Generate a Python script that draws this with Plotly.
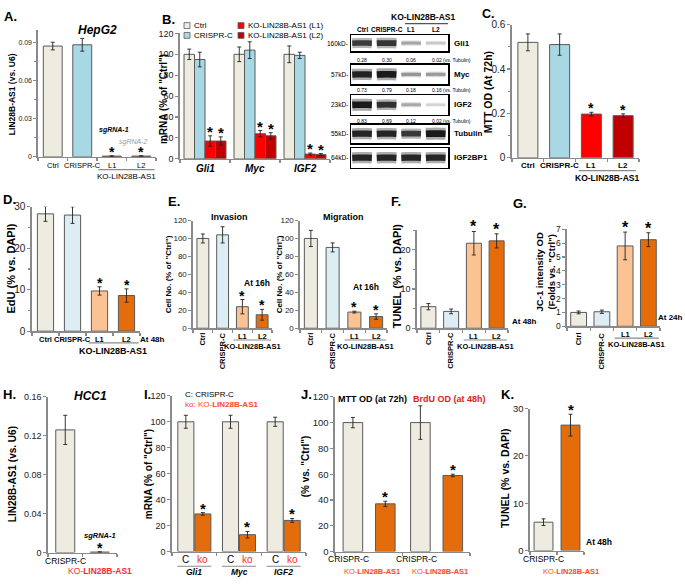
import plotly.graph_objects as go

W, H = 685, 584
FONT = "Arial, Liberation Sans, sans-serif"
AX = "#8a8a8a"
EDGE = "#5a5a5a"

C_CTRL = "#EEEBE0"
C_CRISPR = "#A8D8E3"
C_CRISPR_L = "#DCEEF4"
C_L1 = "#FF0000"
C_L2 = "#C00000"
C_PEACH = "#FBC293"
C_ORANGE = "#E46C0A"
C_KOTXT = "#FF4A1C"

# ---------------- data ----------------
cat4 = ["Ctrl", "CRISPR-C", "L1", "L2"]

A_vals = [0.087, 0.088, 0.0006, 0.0006]
A_errs = [0.003, 0.005, 0.0002, 0.0002]

B_genes = ["Gli1", "Myc", "IGF2"]
B_ctrl = [100, 100, 100]
B_ctrl_err = [5, 7, 8]
B_crispr = [95, 104, 99]
B_crispr_err = [7, 8, 3]
B_l1 = [17, 24, 4.5]
B_l1_err = [5, 3, 1]
B_l2 = [17, 22, 4]
B_l2_err = [4, 3, 1]

blot_rows = ["Gli1", "Myc", "IGF2", "Tubulin", "IGF2BP1"]
blot_mw = ["160kD-", "57kD-", "23kD-", "55kD-", "64kD-"]
blot_gli1 = [0.28, 0.30, 0.06, 0.02]
blot_myc = [0.73, 0.79, 0.18, 0.16]
blot_igf2 = [0.83, 0.69, 0.12, 0.02]
blot_tubulin = [1.0, 1.0, 0.85, 1.1]
blot_igf2bp1 = [1.0, 1.0, 1.0, 1.0]

C_vals = [0.52, 0.51, 0.197, 0.19]
C_errs = [0.038, 0.048, 0.008, 0.008]

D_vals = [28.3, 28.0, 9.7, 8.6]
D_errs = [1.8, 2.0, 1.0, 1.6]

E_inv = [100, 104, 24, 15]
E_inv_err = [5, 9, 8, 6]
E_mig = [100, 90, 18, 13]
E_mig_err = [9, 5, 1, 3]

F_vals = [5.5, 4.3, 21.7, 22.3]
F_errs = [0.8, 0.6, 3.0, 1.8]

G_vals = [1.0, 1.05, 5.8, 6.25]
G_errs = [0.1, 0.12, 1.0, 0.5]

H_cats = ["CRISPR-C", "KO-LIN28B-AS1"]
H_vals = [0.126, 0.0005]
H_errs = [0.015, 0.0002]

I_genes = ["Gli1", "Myc", "IGF2"]
I_c = [100, 100, 100]
I_c_err = [5, 5, 3.5]
I_ko = [29, 13, 24]
I_ko_err = [1, 2.5, 1.5]

J_groups = ["MTT OD (at 72h)", "BrdU OD (at 48h)"]
J_c = [100, 100]
J_c_err = [4, 13]
J_ko = [37, 59]
J_ko_err = [2, 1]

K_vals = [6.0, 26.5]
K_errs = [0.7, 2.3]

# ---------------- helpers ----------------
traces = []
layout = {}
anns = []
shapes = []


def axname(n, kind):
    return f"{kind}axis" if n == 1 else f"{kind}axis{n}"


def ref(n, kind):
    return kind if n == 1 else f"{kind}{n}"


def add_panel(n, x0, x1, ytop, ybot, yrange, tickvals, ticktext, ncat,
              tickfont=8.5, minor=None):
    xa = dict(domain=[x0 / W, x1 / W], anchor=ref(n, "y"),
              range=[-0.5, ncat - 0.5], showline=True, linecolor=AX, linewidth=1.6,
              ticks="outside", ticklen=3, tickcolor=AX, tickwidth=1.2,
              tickvals=[i - 0.5 for i in range(ncat + 1)], showticklabels=False,
              showgrid=False, zeroline=False, fixedrange=True)
    ya = dict(domain=[1 - ybot / H, 1 - ytop / H], anchor=ref(n, "x"),
              range=yrange, showline=True, linecolor=AX, linewidth=1.6,
              ticks="outside", ticklen=3, tickcolor=AX, tickwidth=1.2,
              tickvals=tickvals, ticktext=ticktext,
              tickfont=dict(size=tickfont, color="#222", family=FONT),
              showgrid=False, zeroline=False, fixedrange=True)
    if minor is not None:
        ya["minor"] = dict(tickvals=minor, ticks="outside", ticklen=2, tickcolor=AX)
    layout[axname(n, "x")] = xa
    layout[axname(n, "y")] = ya


def bars(n, xs, vals, errs, colors, width, offset=None):
    t = go.Bar(x=xs, y=vals, width=width, marker=dict(color=colors, line=dict(color=EDGE, width=1)),
               error_y=dict(type="data", array=errs, color="#222", thickness=0.9, width=2),
               xaxis=ref(n, "x"), yaxis=ref(n, "y"), showlegend=False, hoverinfo="skip")
    if offset is not None:
        t.offset = offset
    traces.append(t)


def A(text, px, py, size=8, bold=False, italic=False, color="black",
      xanchor="center", yanchor="middle", angle=0):
    if bold:
        text = f"<b>{text}</b>"
    if italic:
        text = f"<i>{text}</i>"
    anns.append(dict(text=text, x=px / W, y=1 - py / H, xref="paper", yref="paper",
                     showarrow=False, xanchor=xanchor, yanchor=yanchor, textangle=angle,
                     font=dict(size=size, color=color, family=FONT)))


def AD(text, n, xd, py, size=8, bold=False, italic=False, color="black",
       xanchor="center", yanchor="middle", angle=0):
    if bold:
        text = f"<b>{text}</b>"
    if italic:
        text = f"<i>{text}</i>"
    anns.append(dict(text=text, x=xd, y=1 - py / H, xref=ref(n, "x"), yref="paper",
                     showarrow=False, xanchor=xanchor, yanchor=yanchor, textangle=angle,
                     font=dict(size=size, color=color, family=FONT)))


def star(n, xd, yd, size=14):
    anns.append(dict(text="<b>*</b>", x=xd, y=yd, xref=ref(n, "x"), yref=ref(n, "y"),
                     showarrow=False, xanchor="center", yanchor="bottom", yshift=-6,
                     font=dict(size=size, color="black", family=FONT)))


def uline(n, xa, xb, py, color="#8a8a8a"):
    shapes.append(dict(type="line", xref=ref(n, "x"), yref="paper", x0=xa, x1=xb,
                       y0=1 - py / H, y1=1 - py / H, line=dict(color=color, width=1.2)))


def label(t, px, py, size=13):
    A(t, px, py, size=size, bold=True, xanchor="left")


# ---------------- Panel A ----------------
add_panel(1, 38, 156, 24, 154, [0, 0.1], [0, 0.03, 0.06, 0.09], ["0", "0.03", "0.06", "0.09"], 4,
          tickfont=7, minor=[0.015, 0.045, 0.075])
bars(1, list(range(4)), A_vals, A_errs, [C_CTRL, C_CRISPR, C_L1, C_L2], 0.64)
for i, c in enumerate(cat4):
    AD(c, 1, i, 163, size=7.5)
uline(1, 1.55, 3.45, 167)
AD("KO-LIN28B-AS1", 1, 2.5, 174, size=8)
AD("sgRNA-1", 1, 2.08, 127, size=7, bold=True, italic=True)
AD("sgRNA-2", 1, 2.75, 139, size=7, italic=True, color="#9a9a9a")
for i in (2, 3):
    star(1, i, A_vals[i] + A_errs[i])
A("HepG2", 97, 25, size=12, bold=True, italic=True)
A("LIN28B-AS1 (vs. U6)", 12, 90, size=8.5, bold=True, angle=-90)
label("A.", 2, 11)

# ---------------- Panel B ----------------
add_panel(2, 180, 330, 28, 156, [0, 120], list(range(0, 121, 20)), [str(v) for v in range(0, 121, 20)], 3,
          tickfont=9)
bw = 0.21
for k, (vals, errs, col) in enumerate([(B_ctrl, B_ctrl_err, C_CTRL), (B_crispr, B_crispr_err, C_CRISPR),
                                       (B_l1, B_l1_err, C_L1), (B_l2, B_l2_err, C_L2)]):
    off = -2 * bw + k * bw
    bars(2, list(range(3)), vals, errs, col, bw, offset=off)
    if k >= 2:
        for i in range(3):
            star(2, i + off + bw / 2, vals[i] + errs[i], size=15)
for i, g in enumerate(B_genes):
    AD(g, 2, i, 166, size=10, bold=True, italic=True)
A("mRNA (% of \"Ctrl\")", 163, 95, size=10, bold=True, angle=-90)
label("B.", 160, 14)
# legend
for (txt, col, px, py) in [("Ctrl", C_CTRL, 187, 20), ("CRISPR-C", C_CRISPR, 187, 30),
                           ("KO-LIN28B-AS1 (L1)", C_L1, 241, 20), ("KO-LIN28B-AS1 (L2)", C_L2, 241, 30)]:
    shapes.append(dict(type="rect", xref="paper", yref="paper", x0=(px - 3) / W, x1=(px + 3) / W,
                       y0=1 - (py + 3) / H, y1=1 - (py - 3) / H, fillcolor=col, line=dict(color=EDGE, width=0.8)))
    A(txt, px + 5, py, size=8, xanchor="left")

# ---------------- Western blot (panel B right) ----------------
blot_boxes = [(30, 46), (60, 80), (91, 111), (121, 140), (145, 165)]
blot_quant_y = [55, 86, 117]
blot_data = [blot_gli1, blot_myc, blot_igf2, blot_tubulin, blot_igf2bp1]
blot_strength = [0.8, 1.0, 1.0, 1.0, 0.9]
bx0, bx1 = 351, 448
for r, (name, mw, (yt, yb), dat, s) in enumerate(zip(blot_rows, blot_mw, blot_boxes, blot_data, blot_strength)):
    n = 13 + r
    layout[axname(n, "x")] = dict(domain=[bx0 / W, bx1 / W], anchor=ref(n, "y"), range=[-0.45, 3.5],
                                  showline=True, mirror=True, linecolor="black", linewidth=1.5,
                                  showticklabels=False, ticks="", showgrid=False, zeroline=False)
    layout[axname(n, "y")] = dict(domain=[1 - yb / H, 1 - yt / H], anchor=ref(n, "x"), range=[-1, 1],
                                  showline=True, mirror=True, linecolor="black", linewidth=1.5,
                                  showticklabels=False, ticks="", showgrid=False, zeroline=False)
    mx = max(dat)
    for lane, v in enumerate(dat):
        rel = min(1.0, v / mx) * s
        for wfac, op in ((1.0, 0.35), (0.55, 0.9)):
            g = int(235 - 225 * rel ** 0.6)
            traces.append(go.Scatter(x=[lane - 0.4, lane - 0.2, lane + 0.2, lane + 0.4], y=[0, 0.02, 0.02, 0],
                                     mode="lines", line=dict(color=f"rgb({g},{g},{g})",
                                                             width=max(1.0, (4 + 8 * rel) * wfac), shape="spline"),
                                     opacity=op, xaxis=ref(n, "x"), yaxis=ref(n, "y"),
                                     showlegend=False, hoverinfo="skip"))
    ym = (yt + yb) / 2
    A(mw, bx0 - 1, ym, size=6.5, xanchor="right")
    A(name, bx1 + 4, ym, size=8, bold=True, xanchor="left")
    if r < 3:
        qy = blot_quant_y[r]
        for lane, v in enumerate(dat):
            if lane < 3:
                AD(f"{v:.2f}", 13, lane, qy, size=5)
            else:
                AD(f"{v:.2f} (vs. Tubulin)", 13, lane - 0.25, qy, size=5, xanchor="left")
for lane, c in enumerate(cat4):
    AD(c, 13, lane, 24, size=6.5, bold=True)
AD("KO-LIN28B-AS1", 13, 2.5, 11, size=8.5, bold=True)
uline(13, 1.75, 3.5, 18, color="#555")

# ---------------- Panel C ----------------
add_panel(3, 512, 639, 19, 155, [0, 0.6], [0, 0.2, 0.4, 0.6], ["0", "0.2", "0.4", "0.6"], 4,
          tickfont=10, minor=[0.1, 0.3, 0.5])
bars(3, list(range(4)), C_vals, C_errs, [C_CTRL, C_CRISPR, C_L1, C_L2], 0.63)
for i, c in enumerate(cat4):
    AD(c, 3, i, 163, size=8, bold=True)
for i in (2, 3):
    star(3, i, C_vals[i] + C_errs[i])
uline(3, 1.6, 3.4, 168)
AD("KO-LIN28B-AS1", 3, 2.5, 176, size=8.5, bold=True)
A("MTT OD (At 72h)", 488, 88, size=10.5, bold=True, angle=-90)
label("C.", 480, 8, size=12.5)

# ---------------- Panel D ----------------
add_panel(4, 32, 140, 205, 332, [0, 30], [0, 10, 20, 30], ["0", "10", "20", "30"], 4,
          tickfont=10, minor=[5, 15, 25])
bars(4, list(range(4)), D_vals, D_errs, [C_CTRL, C_CRISPR_L, C_PEACH, C_ORANGE], 0.6)
for i, c in enumerate(cat4):
    AD(c, 4, i, 340, size=7.5, bold=True)
for i in (2, 3):
    star(4, i, D_vals[i] + D_errs[i])
uline(4, 1.6, 3.45, 344)
AD("KO-LIN28B-AS1", 4, 2.5, 352, size=9, bold=True)
A("At 48h", 138, 341, size=8, bold=True, xanchor="left")
A("EdU (% vs. DAPI)", 11, 268, size=11, bold=True, angle=-90)
label("D.", 1, 198)


# ---------------- Panel E / F / G (rotated labels) ----------------
def rot_labels(n, ylab, ko_y, ko_size=7.5):
    AD("Ctrl", n, 0, 331, size=7.5, bold=True, angle=-90, yanchor="top")
    AD("CRISPR-C", n, 1, 331, size=7.5, bold=True, angle=-90, yanchor="top")
    AD("L1", n, 2, ylab, size=7.5, bold=True)
    AD("L2", n, 3, ylab, size=7.5, bold=True)
    uline(n, 1.55, 3.45, ylab + 4)
    AD("KO-LIN28B-AS1", n, 2.5, ko_y, size=ko_size, bold=True)


ticks120 = list(range(0, 121, 20))
add_panel(5, 193, 272, 219, 329, [0, 120], ticks120, [str(v) for v in ticks120], 4, tickfont=8)
bars(5, list(range(4)), E_inv, E_inv_err, [C_CTRL, C_CRISPR_L, C_PEACH, C_ORANGE], 0.6)
for i in (2, 3):
    star(5, i, E_inv[i] + E_inv_err[i])
rot_labels(5, 337, 348)
A("Invasion", 230, 215, size=9, bold=True)
A("At 16h", 257, 283, size=8.5, bold=True)
A("Cell No. (% of \"Ctrl\")", 168, 274, size=8, bold=True, angle=-90)
label("E.", 166, 200)

add_panel(6, 300, 387, 219, 329, [0, 120], ticks120, [str(v) for v in ticks120], 4, tickfont=8)
bars(6, list(range(4)), E_mig, E_mig_err, [C_CTRL, C_CRISPR_L, C_PEACH, C_ORANGE], 0.6)
for i in (2, 3):
    star(6, i, E_mig[i] + E_mig_err[i])
rot_labels(6, 337, 348)
A("Migration", 343, 215, size=9, bold=True)
A("At 16h", 366, 287, size=8.5, bold=True)
A("Cell No. (% of \"Ctrl\")", 279, 274, size=8, bold=True, angle=-90)

add_panel(7, 417, 508, 229, 329, [0, 25], [0, 10, 20], ["0", "10", "20"], 4, tickfont=9,
          minor=[5, 15, 25])
bars(7, list(range(4)), F_vals, F_errs, [C_CTRL, C_CRISPR_L, C_PEACH, C_ORANGE], 0.66)
for i in (2, 3):
    star(7, i, F_vals[i] + F_errs[i], size=16)
rot_labels(7, 337, 348)
A("At 48h", 510, 322, size=8, bold=True, xanchor="left")
A("TUNEL (% vs. DAPI)", 397, 276, size=11, bold=True, angle=-90)
label("F.", 389, 200)

add_panel(8, 567, 660, 228, 327, [0, 7], list(range(8)), [str(v) for v in range(8)], 4, tickfont=8.5)
bars(8, list(range(4)), G_vals, G_errs, [C_CTRL, C_CRISPR_L, C_PEACH, C_ORANGE], 0.68)
for i in (2, 3):
    star(8, i, G_vals[i] + G_errs[i], size=16)
rot_labels(8, 335, 346)
A("At 24h", 685, 318, size=8, bold=True, xanchor="right")
A("JC-1 intensity OD<br>(Folds vs. \"Ctrl\")", 545, 272, size=9.5, bold=True, angle=-90)
label("G.", 511, 202)

# ---------------- Panel H ----------------
add_panel(9, 48, 117, 399, 558, [0, 0.16], [0, 0.04, 0.08, 0.12, 0.16],
          ["0", "0.04", "0.08", "0.12", "0.16"], 2, tickfont=9)
bars(9, [0, 1], H_vals, H_errs, [C_CTRL, C_L1], 0.55)
star(9, 1, H_vals[1] + H_errs[1])
AD("sgRNA-1", 9, 1, 541, size=7.5, bold=True, italic=True)
AD("CRISPR-C", 9, 0, 567, size=8.5)
AD("KO-<b>LIN28B-AS1</b>", 9, 1, 577, size=8.5, color="#FF2A2A")
A("HCC1", 90, 398, size=12, bold=True, italic=True)
A("LIN28B-AS1 (vs. U6)", 12, 478, size=10, bold=True, angle=-90)
label("H.", 1, 397)

# ---------------- Panel I ----------------
add_panel(10, 172, 306, 398, 557, [0, 120], ticks120, [str(v) for v in ticks120], 3, tickfont=9)
iw = 0.36
bars(10, list(range(3)), I_c, I_c_err, C_CTRL, iw, offset=-0.37)
bars(10, list(range(3)), I_ko, I_ko_err, C_ORANGE, iw, offset=0.01)
for i, g in enumerate(I_genes):
    star(10, i + 0.01 + iw / 2, I_ko[i] + I_ko_err[i], size=15)
    AD("C", 10, i - 0.37 + iw / 2, 565, size=10)
    AD("ko", 10, i + 0.01 + iw / 2, 565, size=10, color="#FF2A2A")
    uline(10, i - 0.38, i + 0.38, 572)
    AD(g, 10, i, 578, size=8.5, bold=True, italic=True)
A("C: CRISPR-C", 183, 397, size=8, xanchor="left")
A("ko: KO-<b>LIN28B-AS1</b>", 183, 407, size=8, xanchor="left", color=C_KOTXT)
A("mRNA (% of \"Ctrl\")", 148, 478, size=10, bold=True, angle=-90)
label("I.", 142, 397)

# ---------------- Panel J ----------------
add_panel(11, 335, 470, 399, 557, [0, 120], ticks120, [str(v) for v in ticks120], 2, tickfont=9.5)
jw = 0.29
bars(11, [0, 1], J_c, J_c_err, C_CTRL, jw, offset=-0.38)
bars(11, [0, 1], J_ko, J_ko_err, C_ORANGE, jw, offset=0.1)
for i in range(2):
    star(11, i + 0.1 + jw / 2, J_ko[i] + J_ko_err[i], size=15)
    AD("CRISPR-C", 11, i - 0.3, 565, size=8.5)
    AD("KO-<b>LIN28B-AS1</b>", 11, i + 0.05, 577, size=7.5, color=C_KOTXT)
AD("<b>MTT OD (at 72h)</b>", 11, 0.05, 401, size=9)
AD("<b>BrdU OD (at 48h)</b>", 11, 1.2, 401, size=9, color="#E0201B")
A("(% vs. \"Ctrl\")", 305, 470, size=10, bold=True, angle=-90)
label("J.", 299, 397)

# ---------------- Panel K ----------------
add_panel(12, 530, 584, 411, 556, [0, 30], [0, 10, 20, 30], ["0", "10", "20", "30"], 2, tickfont=9.5)
bars(12, [0, 1], K_vals, K_errs, [C_CTRL, C_ORANGE], 0.7)
star(12, 1, K_vals[1] + K_errs[1], size=15)
AD("CRISPR-C", 12, 0, 565, size=8.5)
AD("KO-<b>LIN28B-AS1</b>", 12, 1, 577, size=7.5, color=C_KOTXT)
A("At 48h", 584, 547, size=8.5, bold=True, xanchor="left")
A("TUNEL (% vs. DAPI)", 505, 482, size=10.5, bold=True, angle=-90)
label("K.", 499, 397)

fig = go.Figure(data=traces)
fig.update_layout(width=W, height=H, margin=dict(l=0, r=0, t=0, b=0),
                  paper_bgcolor="white", plot_bgcolor="rgba(0,0,0,0)",
                  barmode="overlay", font=dict(family=FONT, color="black"),
                  annotations=anns, shapes=shapes, showlegend=False, **layout)
fig.write_html("out.html", config={"displayModeBar": False, "staticPlot": True},
               post_script="document.body.style.margin='0';document.body.style.overflow='hidden';")
